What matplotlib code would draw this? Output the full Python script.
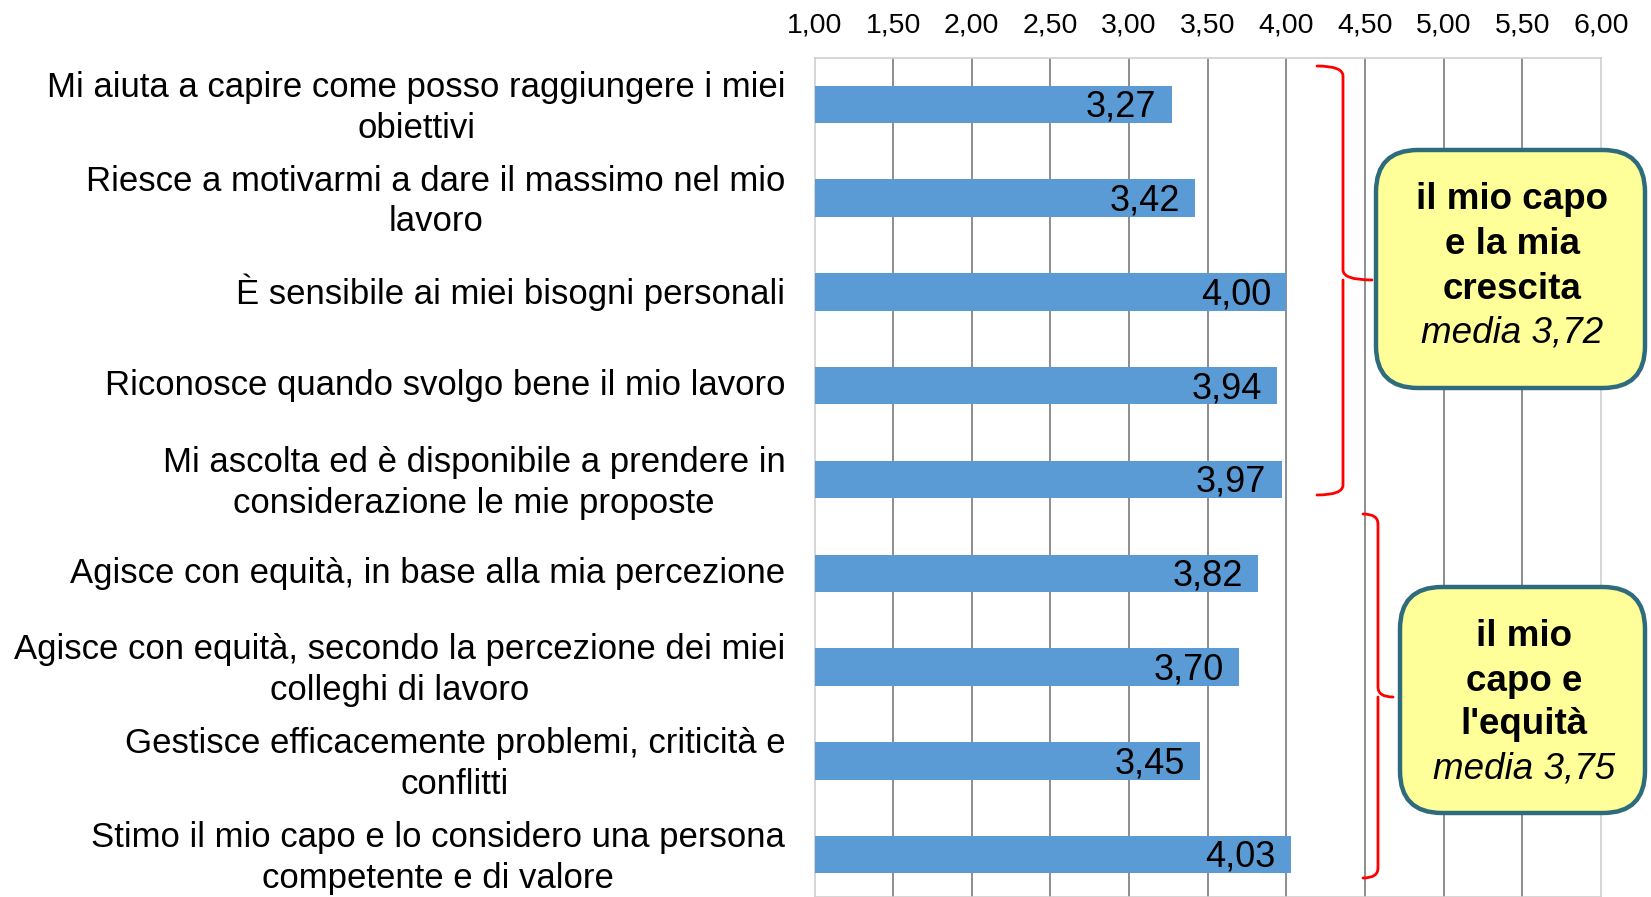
import matplotlib
matplotlib.use("Agg")
import matplotlib.pyplot as plt
import numpy as np
from matplotlib.patches import FancyBboxPatch, PathPatch
from matplotlib.path import Path
from matplotlib.transforms import Affine2D, ScaledTranslation

categories = [
    "Mi aiuta a capire come posso raggiungere i miei\nobiettivi",
    "Riesce a motivarmi a dare il massimo nel mio\nlavoro",
    "È sensibile ai miei bisogni personali",
    "Riconosce quando svolgo bene il mio lavoro",
    "Mi ascolta ed è disponibile a prendere in\nconsiderazione le mie proposte",
    "Agisce con equità, in base alla mia percezione",
    "Agisce con equità, secondo la percezione dei miei\ncolleghi di lavoro",
    "Gestisce efficacemente problemi, criticità e\nconflitti",
    "Stimo il mio capo e lo considero una persona\ncompetente e di valore",
]
values = [3.27, 3.42, 4.00, 3.94, 3.97, 3.82, 3.70, 3.45, 4.03]
xticks = [1.00, 1.50, 2.00, 2.50, 3.00, 3.50, 4.00, 4.50, 5.00, 5.50, 6.00]
group1_lines = ["il mio capo", "e la mia", "crescita"]
group1_media = "media 3,72"
group2_lines = ["il mio", "capo e", "l'equità"]
group2_media = "media 3,75"

W, H = 1651, 897
plt.rcParams['font.family'] = ['Liberation Sans', 'DejaVu Sans']
fig = plt.figure(figsize=(W / 100, H / 100), dpi=100)

left, right, top = 814.5, 1601, 58
ax = fig.add_axes([left / W, 0, (right - left) / W, 1 - top / H])

def fmt(v):
    return f"{v:.2f}".replace(".", ",")

ypos = np.arange(len(categories))
ax.barh(ypos, [v - 1 for v in values], left=1, height=0.40, color="#5B9BD5", zorder=3)
ax.set_xlim(1, 6)
# category center in px: 104.5 + 93.75*i
c0, step = 104.5, 93.75
ax.set_ylim((H - c0) / step, (top - c0) / step)

ax.set_yticks(ypos)
ax.set_yticklabels(categories, fontsize=25, ha="right", va="center",
                   multialignment="center", linespacing=1.3)
ax.tick_params(axis="y", length=0, pad=21)

ax.xaxis.tick_top()
ax.set_xticks(xticks)
ax.set_xticklabels([fmt(t) for t in xticks], fontsize=20.5)
ax.tick_params(axis="x", length=0, pad=14)

# nudge two-line labels slightly down
for lab in ax.get_yticklabels():
    if "\n" in lab.get_text():
        lab.set_transform(lab.get_transform() + ScaledTranslation(0, -3.3 / 100, fig.dpi_scale_trans))

ax.grid(axis="x", color="#858585", linewidth=1.3, zorder=1)
ax.set_axisbelow(True)
gl = ax.get_xgridlines()
gl[0].set_visible(False)
gl[-1].set_visible(False)
for s in ax.spines.values():
    s.set_color("#d0d0d0")
    s.set_linewidth(1.2)

for y, v in zip(ypos, values):
    ax.annotate(fmt(v), xy=(v, y), xytext=(-11, -2), textcoords="offset points",
                ha="right", va="center", fontsize=26, color="black", zorder=4)

# pixel transform (origin top-left)
pt = Affine2D().scale(1, -1).translate(0, H)

def brace(x_left, x_spine, x_tip, y_top, y_tip, y_bot, r=10):
    verts = [
        (x_left, y_top), (x_spine, y_top), (x_spine, y_top + r),
        (x_spine, y_tip - r), (x_spine, y_tip), (x_tip, y_tip),
        (x_spine, y_tip), (x_spine, y_tip + r),
        (x_spine, y_bot - r), (x_spine, y_bot), (x_left, y_bot),
    ]
    codes = [Path.MOVETO, Path.CURVE3, Path.CURVE3,
             Path.LINETO, Path.CURVE3, Path.CURVE3,
             Path.MOVETO, Path.LINETO,
             Path.LINETO, Path.CURVE3, Path.CURVE3]
    p = PathPatch(Path(verts, codes), transform=pt, fill=False, edgecolor="#ff0000",
                  linewidth=2.0, capstyle="round", joinstyle="round")
    fig.add_artist(p)

brace(1317, 1343, 1372, 66, 280, 495)
brace(1363, 1378, 1393, 514, 697, 878)

def box(x0, y0, x1, y1, cx, lines, media, y_lines):
    b = FancyBboxPatch((x0, H - y1), x1 - x0, y1 - y0,
                       boxstyle="round,pad=0,rounding_size=42",
                       transform=Affine2D(), facecolor="#FFFF99", edgecolor="#2E6B7D",
                       linewidth=3.2, zorder=5)
    fig.add_artist(b)
    for txt, yy in zip(lines, y_lines[:-1]):
        fig.text(cx / W, 1 - yy / H, txt, ha="center", va="center", fontsize=26.5,
                 fontweight="bold", zorder=6)
    fig.text(cx / W, 1 - y_lines[-1] / H, media, ha="center", va="center", fontsize=26.5,
             fontstyle="italic", zorder=6)

box(1376, 150, 1645, 388, 1512, group1_lines, group1_media, [199, 244, 289, 333])
box(1400, 587, 1645, 813, 1524, group2_lines, group2_media, [636, 681, 724, 769])

fig.savefig("out.png", dpi=100)
